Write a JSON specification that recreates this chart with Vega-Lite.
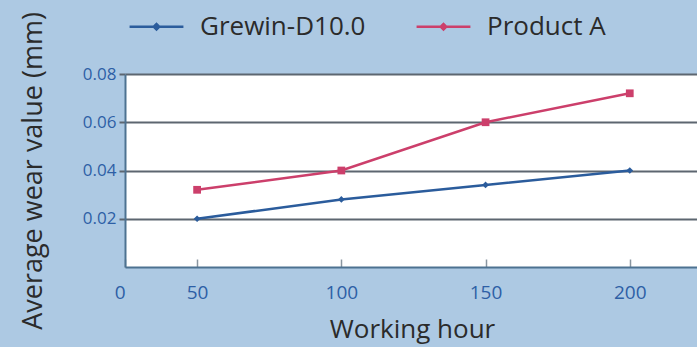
{
  "$schema": "https://vega.github.io/schema/vega-lite/v6.json",
  "width": 574,
  "height": 193,
  "autosize": "none",
  "padding": {"left": 125, "top": 74, "right": 0, "bottom": 80},
  "background": "#adc9e3",
  "config": {
    "view": {"fill": "white", "stroke": null},
    "font": "Open Sans"
  },
  "data": {
    "values": [
      {"hour": 50, "wear": 0.020, "series": "Grewin-D10.0"},
      {"hour": 100, "wear": 0.028, "series": "Grewin-D10.0"},
      {"hour": 150, "wear": 0.034, "series": "Grewin-D10.0"},
      {"hour": 200, "wear": 0.040, "series": "Grewin-D10.0"},
      {"hour": 50, "wear": 0.032, "series": "Product A"},
      {"hour": 100, "wear": 0.040, "series": "Product A"},
      {"hour": 150, "wear": 0.060, "series": "Product A"},
      {"hour": 200, "wear": 0.072, "series": "Product A"}
    ]
  },
  "encoding": {
    "x": {
      "field": "hour",
      "type": "quantitative",
      "scale": {"domain": [25, 224], "nice": false, "zero": false},
      "axis": {
        "title": "Working hour",
        "values": [25, 50, 100, 150, 200],
        "labelExpr": "datum.value == 25 ? '0' : datum.label",
        "labelAlign": {"condition": {"test": "datum.value == 25", "value": "right"}, "value": "center"},
        "grid": false,
        "domainColor": "#4d7291",
        "domainWidth": 2,
        "tickColor": "#8a96a0",
        "tickSize": -8,
        "tickWidth": 1.5,
        "labelColor": "#2d5fa6",
        "labelFontSize": 19,
        "labelPadding": 24,
        "titleFontSize": 26,
        "titleFontWeight": "normal",
        "titleColor": "#2b2b2b",
        "titlePadding": 14
      }
    },
    "y": {
      "field": "wear",
      "type": "quantitative",
      "scale": {"domain": [0, 0.08], "nice": false},
      "axis": {
        "title": "Average wear value  (mm)",
        "values": [0.02, 0.04, 0.06, 0.08],
        "format": ".2f",
        "gridColor": "#5d6670",
        "gridWidth": 2,
        "domainColor": "#4d7291",
        "domainWidth": 2,
        "tickColor": "#5d6670",
        "tickSize": 6,
        "tickWidth": 2,
        "labelColor": "#2d5fa6",
        "labelFontSize": 17,
        "labelPadding": 3,
        "titleFontSize": 27,
        "titleFontWeight": "normal",
        "titleColor": "#2b2b2b",
        "titlePadding": 35
      }
    },
    "color": {
      "field": "series",
      "type": "nominal",
      "scale": {"domain": ["Grewin-D10.0", "Product A"], "range": ["#2b5c9c", "#cc3f6b"]},
      "legend": {
        "title": null,
        "orient": "none",
        "legendX": 3,
        "legendY": -76,
        "direction": "horizontal",
        "labelFontSize": 26,
        "labelLimit": 400,
        "labelColor": "#2b2b2b",
        "labelFont": "Open Sans",
        "symbolType": "M-1,0L1,0M-0.1,0L0,-0.1L0.1,0L0,0.1Z",
        "symbolSize": 2900,
        "symbolStrokeWidth": 2.5,
        "labelOffset": 15,
        "columnPadding": 45
      }
    }
  },
  "layer": [
    {"mark": {"type": "line", "strokeWidth": 2.5}},
    {
      "transform": [{"filter": "datum.series == 'Grewin-D10.0'"}],
      "mark": {"type": "point", "filled": true, "opacity": 1, "shape": "diamond", "size": 45}
    },
    {
      "transform": [{"filter": "datum.series == 'Product A'"}],
      "mark": {"type": "point", "filled": true, "opacity": 1, "shape": "square", "size": 60, "color": "#c42a5c"}
    }
  ]
}
